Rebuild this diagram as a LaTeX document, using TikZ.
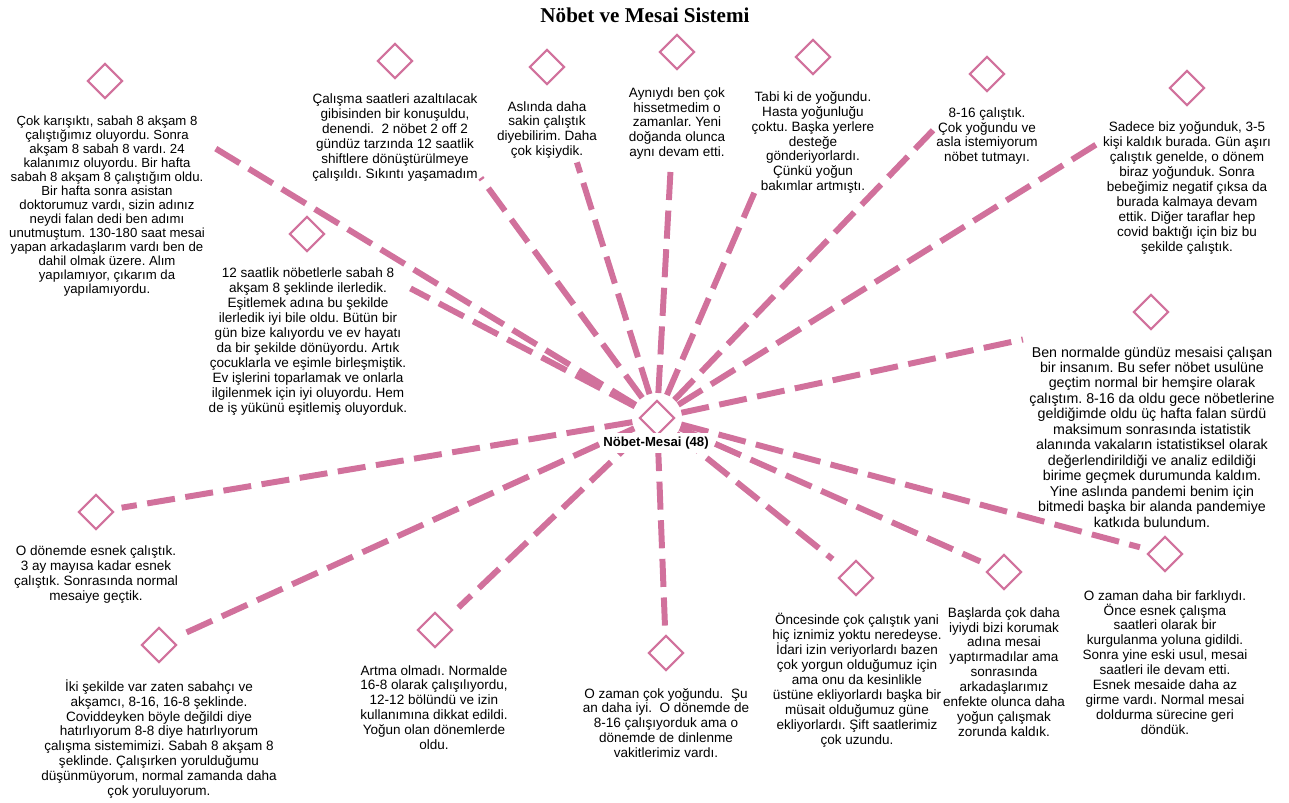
\documentclass[tikz,border=0pt]{standalone}
\usepackage{fontspec}
\setmainfont{Liberation Sans}
\newfontfamily\titlefont{Liberation Serif}
\usepackage{xcolor}
\usepackage{tikz}
\usetikzlibrary{shapes.geometric}
\definecolor{linkpink}{RGB}{209,113,156}
\frenchspacing

\begin{document}
\begin{tikzpicture}[x=0.02cm,y=-0.02cm,
  icon/.style={draw=linkpink,line width=1.2pt,shape=diamond,aspect=1,
               minimum width=0.7cm,minimum height=0.7cm,inner sep=0pt},
  remark/.style={align=center,inner sep=1pt,font=\fontsize{7.7}{8.5}\selectfont},
  link/.style={linkpink,line width=3.4pt,dash pattern=on 16pt off 6pt,shorten <=0.5cm}]
  \useasboundingbox (0,0) rectangle (1289,803);
  \node[font=\titlefont\bfseries\fontsize{12}{14}\selectfont] (title) at (645,15) {Nöbet ve Mesai Sistemi};
  \node[icon] (c) at (657,418) {};

  \node[icon] (d1) at (105,81) {};
  \node[remark,font=\fontsize{7.5}{7.95}\selectfont] (t1) at (107,206) {Çok karışıktı, sabah 8 akşam 8\\çalıştığımız oluyordu. Sonra\\akşam 8 sabah 8 vardı. 24\\kalanımız oluyordu. Bir hafta\\sabah 8 akşam 8 çalıştığım oldu.\\Bir hafta sonra asistan\\doktorumuz vardı, sizin adınız\\neydi falan dedi ben adımı\\unutmuştum. 130-180 saat mesai\\yapan arkadaşlarım vardı ben de\\dahil olmak üzere. Alım\\yapılamıyor, çıkarım da\\yapılamıyordu.};
  \node[icon] (d2) at (395,61) {};
  \node[remark] (t2) at (395,137.5) {Çalışma saatleri azaltılacak\\gibisinden bir konuşuldu,\\denendi.~ 2 nöbet 2 off 2\\gündüz tarzında 12 saatlik\\shiftlere dönüştürülmeye\\çalışıldı. Sıkıntı yaşamadım};
  \node[icon] (d3) at (547,67) {};
  \node[remark] (t3) at (547,130) {Aslında daha\\sakin çalıştık\\diyebilirim. Daha\\çok kişiydik.};
  \node[icon] (d4) at (677,52) {};
  \node[remark] (t4) at (677,123.5) {Aynıydı ben çok\\hissetmedim o\\zamanlar. Yeni\\doğanda olunca\\aynı devam etti.};
  \node[icon] (d5) at (813,57) {};
  \node[remark] (t5) at (813,142.5) {Tabi ki de yoğundu.\\Hasta yoğunluğu\\çoktu. Başka yerlere\\desteğe\\gönderiyorlardı.\\Çünkü yoğun\\bakımlar artmıştı.};
  \node[icon] (d6) at (987,74) {};
  \node[remark] (t6) at (987,136) {8-16 çalıştık.\\Çok yoğundu ve\\asla istemiyorum\\nöbet tutmayı.};
  \node[icon] (d7) at (1187,88) {};
  \node[remark] (t7) at (1187,188) {Sadece biz yoğunduk, 3-5\\kişi kaldık burada. Gün aşırı\\çalıştık genelde, o dönem\\biraz yoğunduk. Sonra\\bebeğimiz negatif çıksa da\\burada kalmaya devam\\ettik. Diğer taraflar hep\\covid baktığı için biz bu\\şekilde çalıştık.};
  \node[icon] (d8) at (307,234) {};
  \node[remark] (t8) at (308,341.5) {12 saatlik nöbetlerle sabah 8\\akşam 8 şeklinde ilerledik.\\Eşitlemek adına bu şekilde\\ilerledik iyi bile oldu. Bütün bir\\gün bize kalıyordu ve ev hayatı\\da bir şekilde dönüyordu. Artık\\çocuklarla ve eşimle birleşmiştik.\\Ev işlerini toparlamak ve onlarla\\ilgilenmek için iyi oluyordu. Hem\\de iş yükünü eşitlemiş oluyorduk.};
  \node[icon] (d9) at (1151,312) {};
  \node[remark,font=\fontsize{8.1}{8.8}\selectfont] (t9) at (1152,437) {Ben normalde gündüz mesaisi çalışan\\bir insanım. Bu sefer nöbet usulüne\\geçtim normal bir hemşire olarak\\çalıştım. 8-16 da oldu gece nöbetlerine\\geldiğimde oldu üç hafta falan sürdü\\maksimum sonrasında istatistik\\alanında vakaların istatistiksel olarak\\değerlendirildiği ve analiz edildiği\\birime geçmek durumunda kaldım.\\Yine aslında pandemi benim için\\bitmedi başka bir alanda pandemiye\\katkıda bulundum.};
  \node[icon] (d10) at (96,512) {};
  \node[remark] (t10) at (96,574.5) {O dönemde esnek çalıştık.\\3 ay mayısa kadar esnek\\çalıştık. Sonrasında normal\\mesaiye geçtik.};
  \node[icon] (d11) at (159,645) {};
  \node[remark] (t11) at (159,739) {İki şekilde var zaten sabahçı ve\\akşamcı, 8-16, 16-8 şeklinde.\\Coviddeyken böyle değildi diye\\hatırlıyorum 8-8 diye hatırlıyorum\\çalışma sistemimizi. Sabah 8 akşam 8\\şeklinde. Çalışırken yorulduğumu\\düşünmüyorum, normal zamanda daha\\çok yoruluyorum.};
  \node[icon] (d12) at (435,630) {};
  \node[remark] (t12) at (434,707.5) {Artma olmadı. Normalde\\16-8 olarak çalışılıyordu,\\12-12 bölündü ve izin\\kullanımına dikkat edildi.\\Yoğun olan dönemlerde\\oldu.};
  \node[icon] (d13) at (666,653) {};
  \node[remark] (t13) at (666,723) {O zaman çok yoğundu.~ Şu\\an daha iyi.~ O dönemde de\\8-16 çalışıyorduk ama o\\dönemde de dinlenme\\vakitlerimiz vardı.};
  \node[icon] (d14) at (856,578) {};
  \node[remark] (t14) at (857,680.5) {Öncesinde çok çalıştık yani\\hiç iznimiz yoktu neredeyse.\\İdari izin veriyorlardı bazen\\çok yorgun olduğumuz için\\ama onu da kesinlikle\\üstüne ekliyorlardı başka bir\\müsait olduğumuz güne\\ekliyorlardı. Şift saatlerimiz\\çok uzundu.};
  \node[icon] (d15) at (1004,572) {};
  \node[remark] (t15) at (1004,672) {Başlarda çok daha\\iyiydi bizi korumak\\adına mesai\\yaptırmadılar ama\\sonrasında\\arkadaşlarımız\\enfekte olunca daha\\yoğun çalışmak\\zorunda kaldık.};
  \node[icon] (d16) at (1165,554) {};
  \node[remark] (t16) at (1165,662.5) {O zaman daha bir farklıydı.\\Önce esnek çalışma\\saatleri olarak bir\\kurgulanma yoluna gidildi.\\Sonra yine eski usul, mesai\\saatleri ile devam etti.\\Esnek mesaide daha az\\girme vardı. Normal mesai\\doldurma sürecine geri\\döndük.};

  \draw[link,shorten >=2.5cm] (c.center)--(d1.center); \draw[link,shorten >=2.9cm] (c.center)--(d2.center);
  \draw[link,shorten >=2.0cm] (c.center)--(d3.center); \draw[link,shorten >=2.26cm] (c.center)--(d4.center);
  \draw[link,shorten >=2.96cm] (c.center)--(d5.center); \draw[link,shorten >=1.56cm] (c.center)--(d6.center);
  \draw[link,shorten >=2.08cm] (c.center)--(d7.center); \draw[link,shorten >=2.34cm] (c.center)--(d8.center);
  \draw[link,shorten >=2.62cm] (c.center)--(d9.center); \draw[link,shorten >=0.52cm] (c.center)--(d10.center);
  \draw[link,shorten >=0.54cm] (c.center)--(d11.center); \draw[link,shorten >=0.65cm] (c.center)--(d12.center);
  \draw[link,shorten >=0.48cm] (c.center)--(d13.center); \draw[link,shorten >=0.6cm] (c.center)--(d14.center);
  \draw[link,shorten >=0.52cm] (c.center)--(d15.center); \draw[link,shorten >=0.52cm] (c.center)--(d16.center);
  \node[fill=white,inner sep=2pt,font=\bfseries\fontsize{7.5}{9}\selectfont] (clabel) at (656,443) {Nöbet-Mesai (48)};
\end{tikzpicture}
\end{document}
